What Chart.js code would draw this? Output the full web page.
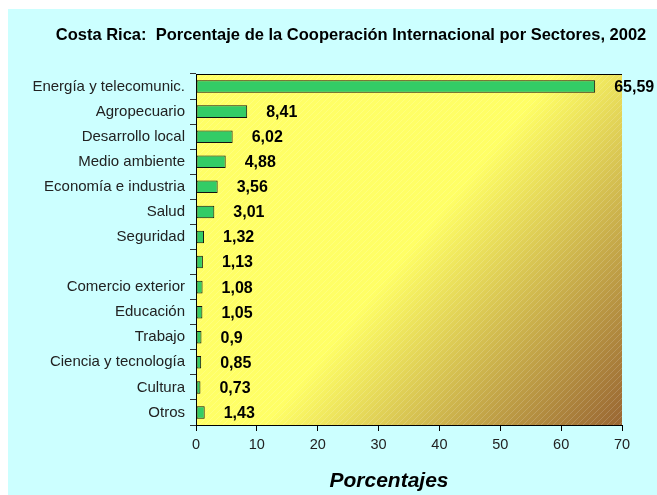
<!DOCTYPE html>
<html>
<head>
<meta charset="utf-8">
<title>Cooperación Internacional por Sectores</title>
<script src="https://cdn.jsdelivr.net/npm/chart.js@4/dist/chart.umd.min.js"></script>
<style>
  html, body { margin: 0; padding: 0; background: #fff; }
</style>
</head>
<body>
<canvas id="grafico" width="657" height="495"></canvas>
<script>
// Datos del gráfico
const titulo = 'Costa Rica:  Porcentaje de la Cooperación Internacional por Sectores, 2002';
const tituloEje = 'Porcentajes';
const sectores = [
  'Energía y telecomunic.', 'Agropecuario', 'Desarrollo local', 'Medio ambiente',
  'Economía e industria', 'Salud', 'Seguridad', '', 'Comercio exterior',
  'Educación', 'Trabajo', 'Ciencia y tecnología', 'Cultura', 'Otros'
];
const porcentajes = [65.59, 8.41, 6.02, 4.88, 3.56, 3.01, 1.32, 1.13, 1.08, 1.05, 0.9, 0.85, 0.73, 1.43];
const ticksX = [0, 10, 20, 30, 40, 50, 60, 70];

const fuente = '"Liberation Sans", Arial, sans-serif';

// fondo celeste + área del gráfico con degradado diagonal
const fondo = {
  id: 'fondo',
  beforeDraw(chart) {
    const { ctx, chartArea: a } = chart;
    ctx.save();
    ctx.fillStyle = '#fff';
    ctx.fillRect(0, 0, chart.width, chart.height);
    ctx.fillStyle = '#CCFFFF';
    ctx.fillRect(8, 9, chart.width - 8, chart.height - 9);

    const g = ctx.createLinearGradient(a.left, a.top, a.right, a.bottom);
    g.addColorStop(0, '#FFFF66');
    g.addColorStop(0.5, '#FFFF66');
    g.addColorStop(1, '#996633');
    ctx.fillStyle = g;
    ctx.fillRect(a.left, a.top, a.width, a.height);

    // rayado fino
    ctx.beginPath();
    ctx.rect(a.left, a.top, a.width, a.height);
    ctx.clip();
    ctx.beginPath();
    ctx.strokeStyle = 'rgba(255,255,255,0.16)';
    ctx.lineWidth = 1;
    for (let d = -a.height; d < a.width; d += 6) {
      ctx.moveTo(a.left + d, a.bottom);
      ctx.lineTo(a.left + d + a.height, a.top);
    }
    ctx.stroke();
    ctx.restore();
  },
  afterDraw(chart) {
    const { ctx, chartArea: a } = chart;
    ctx.save();
    // línea superior del área
    ctx.strokeStyle = '#000';
    ctx.lineWidth = 1;
    ctx.beginPath();
    ctx.moveTo(a.left, a.top + 0.5);
    ctx.lineTo(a.right, a.top + 0.5);
    ctx.stroke();
    // títulos
    ctx.fillStyle = '#000';
    ctx.textAlign = 'center';
    ctx.textBaseline = 'middle';
    ctx.font = 'bold 16.5px ' + fuente;
    ctx.fillText(titulo, 351, 35);
    ctx.font = 'italic bold 21px ' + fuente;
    ctx.fillText(tituloEje, 389, 481);
    ctx.restore();
  }
};

// etiquetas de valor junto a cada barra
const valores = {
  id: 'valores',
  afterDatasetsDraw(chart) {
    const ctx = chart.ctx;
    const meta = chart.getDatasetMeta(0);
    ctx.save();
    ctx.font = 'bold 16px ' + fuente;
    ctx.fillStyle = '#000';
    ctx.textAlign = 'left';
    ctx.textBaseline = 'middle';
    meta.data.forEach((barra, i) => {
      const texto = String(porcentajes[i]).replace('.', ',');
      ctx.fillText(texto, barra.x + 19, barra.y + 1);
    });
    ctx.restore();
  }
};

new Chart(document.getElementById('grafico'), {
  type: 'bar',
  data: {
    labels: sectores,
    datasets: [{
      data: porcentajes,
      backgroundColor: '#33CC66',
      borderColor: '#111',
      borderWidth: 1,
      borderSkipped: false,
      barPercentage: 0.5,
      categoryPercentage: 1
    }]
  },
  options: {
    indexAxis: 'y',
    responsive: false,
    animation: false,
    devicePixelRatio: 1,
    layout: { padding: { left: 8, right: 35, top: 74, bottom: 0 } },
    plugins: {
      legend: { display: false },
      tooltip: { enabled: false }
    },
    scales: {
      x: {
        min: 0,
        max: 70,
        afterFit: (s) => { s.height = 70; },
        afterBuildTicks: (s) => { s.ticks = ticksX.map(v => ({ value: v })); },
        grid: { drawOnChartArea: false, drawTicks: true, tickLength: 6, tickColor: '#000' },
        border: { color: '#000', width: 1 },
        ticks: { color: '#222', padding: 5, font: { family: fuente, size: 14.5 } }
      },
      y: {
        afterFit: (s) => { s.width = 188; },
        grid: { drawOnChartArea: false, drawTicks: true, tickLength: 6, tickColor: '#333', offset: true },
        border: { color: '#000', width: 1 },
        ticks: { color: '#222', padding: 5, autoSkip: false, font: { family: fuente, size: 15 } }
      }
    }
  },
  plugins: [fondo, valores]
});
</script>
</body>
</html>
